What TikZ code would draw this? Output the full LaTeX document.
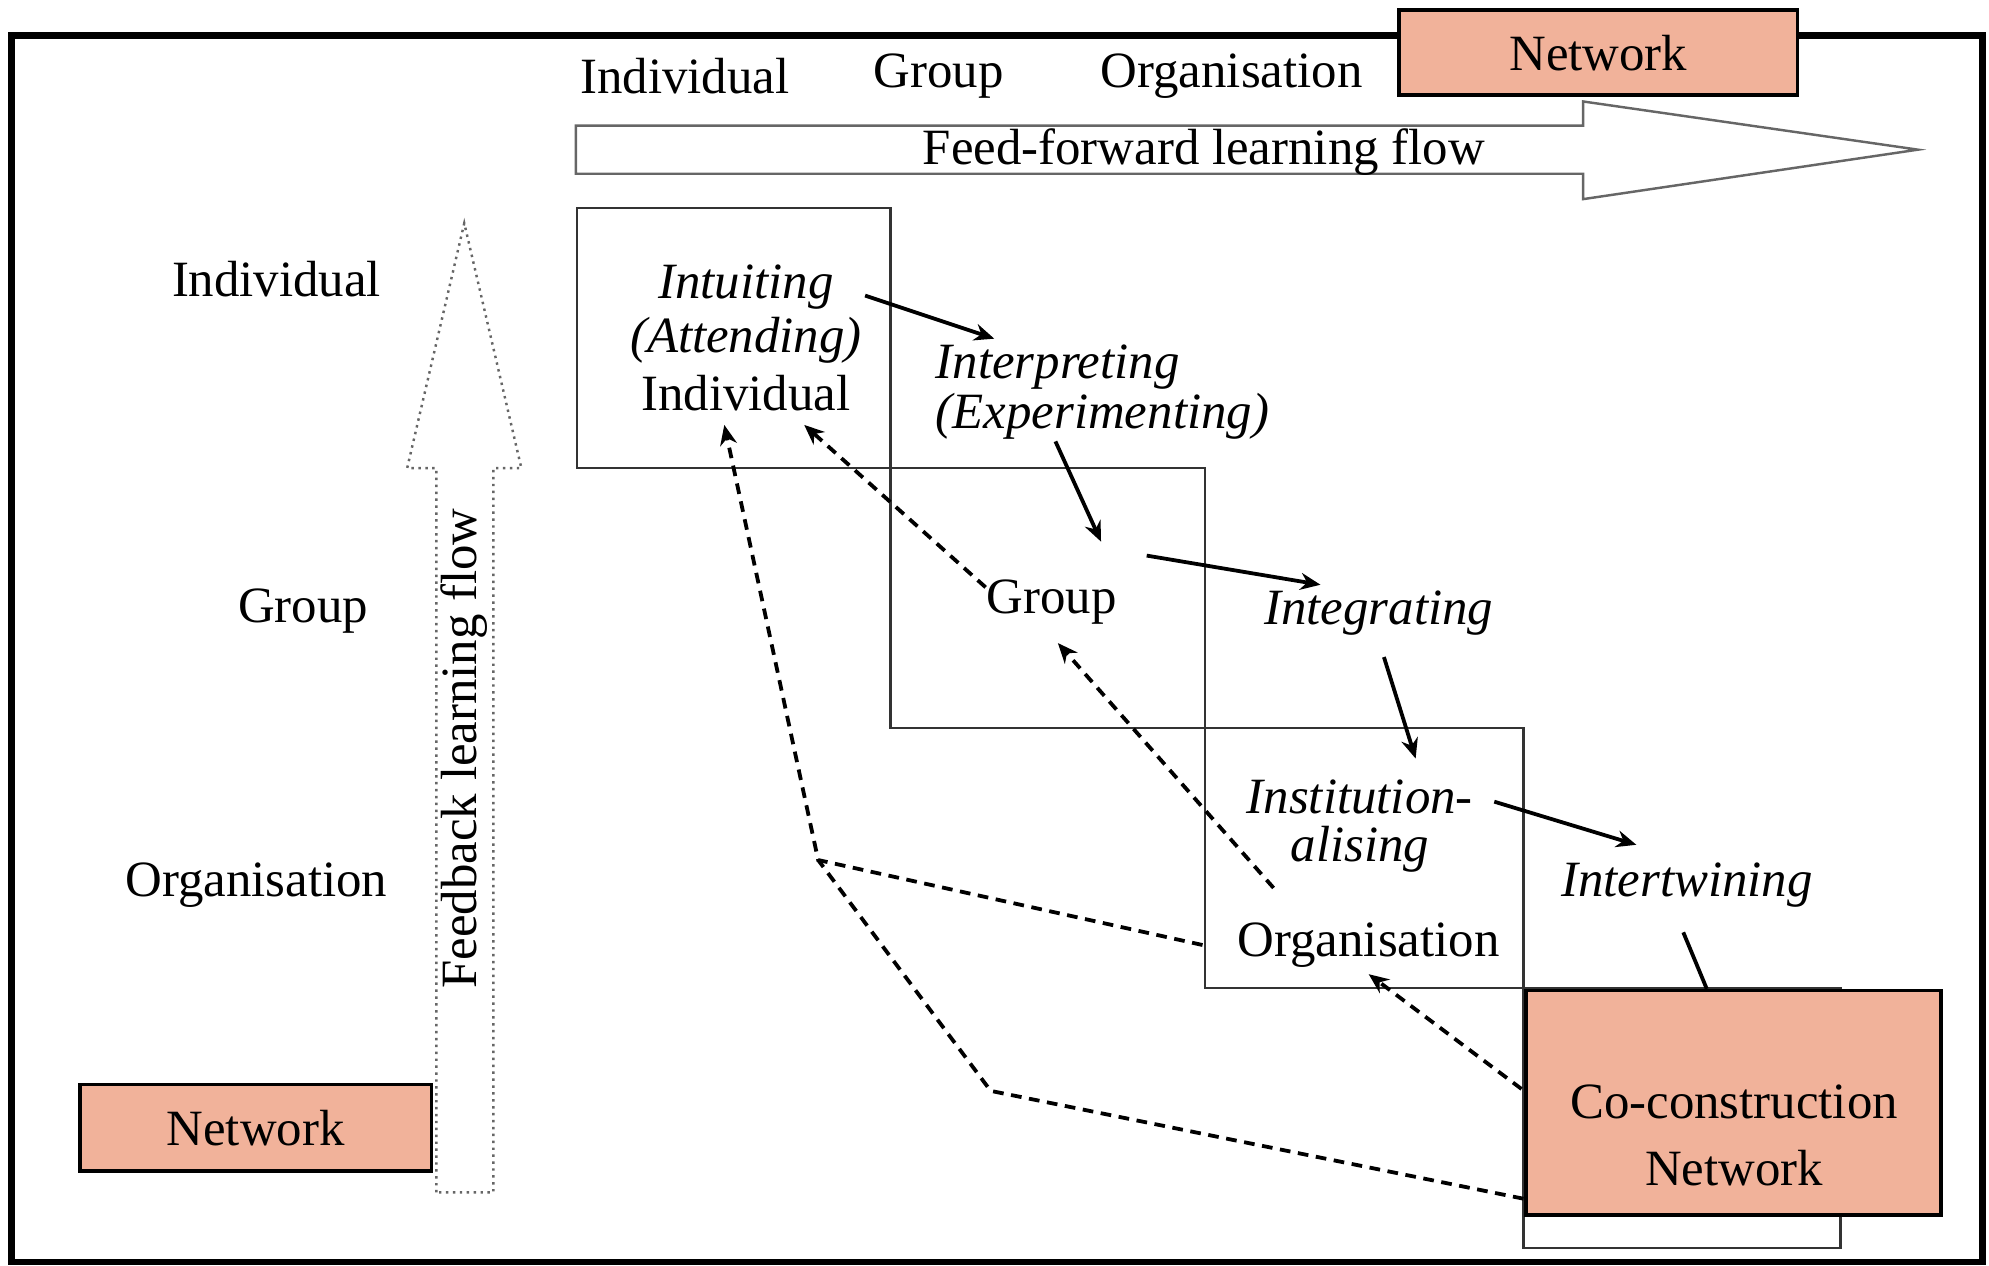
\documentclass[tikz,border=0pt]{standalone}
\usepackage{fontspec}
\setmainfont{Liberation Serif}
\usetikzlibrary{arrows.meta}
\definecolor{netfill}{RGB}{241,178,154}
\begin{document}
\begin{tikzpicture}[x=0.01cm, y=-0.01cm,
    lbl/.style={inner sep=0pt, font=\fontsize{11.4}{13}\selectfont},
    stage/.style={lbl, font=\fontsize{11.4}{13}\selectfont\itshape},
    netbox/.style={draw, thick, fill=netfill, inner sep=0pt, font=\fontsize{11.4}{13}\selectfont},
    level/.style={draw=black!80, line width=0.5pt},
    flow/.style={line width=0.85pt, -{Stealth[length=4.5pt, width=3.8pt]}},
    back/.style={flow, dash pattern=on 2.4pt off 1.7pt},
    bigarrow/.style={draw=black!60, line width=0.55pt}]
  \useasboundingbox (0,0) rectangle (1568,998);
  \draw [line width=1.5pt] (9,28) rectangle (1563,995);
  % column heads and feed-forward arrow
  \node [lbl] (tInd) at (540,60) {Individual};
  \node [lbl] (tGrp) at (740,60) {Group};
  \node [lbl] (tOrg) at (971,60) {Organisation};
  \draw [bigarrow] (454,99) -- (1248,99) -- (1248,80) -- (1512,118) -- (1248,157) -- (1248,137) -- (454,137) -- cycle;
  \node [lbl] (ff) at (949,120) {Feed-forward learning flow};
  \node [netbox, minimum width=3.14cm, minimum height=0.67cm] (tNet) at (1260,41.5) {Network};
  % row heads and feedback arrow
  \node [lbl] (lInd) at (218,220) {Individual};
  \node [lbl] (lGrp) at (239,482) {Group};
  \node [lbl] (lOrg) at (202,698) {Organisation};
  \draw [bigarrow, densely dotted] (344,940) -- (344,369) -- (321,369) -- (366,176) -- (411,369) -- (389,369) -- (389,940) -- cycle;
  \node [lbl, rotate=90] (fb) at (366,590) {Feedback learning flow};
  \node [netbox, minimum width=2.77cm, minimum height=0.68cm] (lNet) at (201.5,889) {Network};
  % staircase of levels
  \draw [level] (455,164) rectangle (702,369);
  \draw [level] (702,369) rectangle (950,574);
  \draw [level] (950,574) rectangle (1201,779);
  \draw [level] (1201,779) rectangle (1451,984);
  \node [stage] (intuit) at (588,226) {Intuiting};
  \node [stage] (attend) at (588,268) {(Attending)};
  \node [lbl] (indiv) at (588,310) {Individual};
  \node [stage, anchor=west] (interp) at (737,289) {Interpreting};
  \node [stage, anchor=west] (exper) at (737,328) {(Experimenting)};
  \node [lbl] (group) at (829,475) {Group};
  \node [stage] (integ) at (1087,483) {Integrating};
  \node [stage, align=center, font=\fontsize{11.4}{10.8}\selectfont\itshape] (instit) at (1072,651) {Institution-\\alising};
  \node [stage] (intert) at (1330,698) {Intertwining};
  \node [lbl] (orga) at (1079,745) {Organisation};
  \node [netbox, minimum width=3.27cm, minimum height=1.77cm] (coco) at (1366.5,869.5) {};
  \draw [line width=0.85pt] ([shift={(-3,37)}]intert.center) -- ([shift={(-21,0)}]coco.north);
  \node [lbl] (cocoA) at (1367,869) {Co-construction};
  \node [lbl] (cocoB) at (1367,921) {Network};
  % feed-forward
  \draw [flow] ([shift={(94,7)}]intuit.center) -- ([shift={(-50,-22)}]interp.center);
  \draw [flow] ([shift={(-37,20)}]exper.center) -- ([shift={(39,-48)}]group.center);
  \draw [flow] ([shift={(75,-37)}]group.center) -- ([shift={(-46,-22)}]integ.center);
  \draw [flow] ([shift={(4,35)}]integ.center) -- ([shift={(44,-53)}]instit.center);
  \draw [flow] ([shift={(106,-19)}]instit.center) -- ([shift={(-40,-32)}]intert.center);
  % feedback
  \coordinate (bend1) at (645,678);
  \coordinate (bend2) at (781,860);
  \draw [back] ([shift={(-52,-12)}]group.center) -- ([shift={(46,25)}]indiv.center);
  \draw [back] ([shift={(-75,-45)}]orga.center) -- ([shift={(5,32)}]group.center);
  \draw [back] ([shift={(-2,-11)}]coco.west) -- ([shift={(0,23)}]orga.center);
  \draw [back] ([shift={(-131,0)}]orga.center) -- (bend1) -- ([shift={(-17,25)}]indiv.center);
  \draw [back, -] ([shift={(-165.5,75.5)}]coco.center) -- (bend2) -- (bend1);
\end{tikzpicture}
\end{document}
